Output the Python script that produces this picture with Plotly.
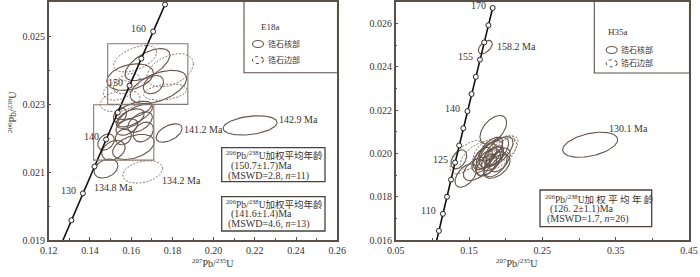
import numpy as np
import plotly.graph_objects as go

# ---------------- data ----------------
# E18a ellipses: centre, half-extent in x and y, correlation, rim flag (1 = rim / dashed)
E18_cx  = [0.1679, 0.1619, 0.1789, 0.1732, 0.1595, 0.1708, 0.1538, 0.1546, 0.1765, 0.1579,
           0.1611, 0.1619, 0.1595, 0.1643, 0.1478, 0.1514, 0.1611, 0.1659, 0.1562, 0.1579, 0.1546,
           0.1784, 0.2177, 0.1656, 0.1478]
E18_cy  = [0.02416, 0.02433, 0.02399, 0.02350, 0.02379, 0.02357, 0.02340, 0.02309, 0.02335, 0.02360,
           0.022812, 0.022666, 0.022569, 0.022469, 0.021883, 0.021639, 0.021736, 0.022176, 0.022029, 0.022323, 0.022666,
           0.022147, 0.022370, 0.021003, 0.021102]
E18_sx  = [0.0109, 0.0105, 0.0113, 0.0137, 0.0113, 0.0049, 0.0073, 0.0097, 0.0105, 0.0065,
           0.0089, 0.0085, 0.0068, 0.0060, 0.0040, 0.0057, 0.0101, 0.0049, 0.0039, 0.0053, 0.0032,
           0.0063, 0.0131, 0.0097, 0.0058]
E18_sy  = [0.00047, 0.00039, 0.00049, 0.00049, 0.00039, 0.00027, 0.00029, 0.00032, 0.00024, 0.00030,
           0.00027, 0.00034, 0.00029, 0.00030, 0.00024, 0.00029, 0.00037, 0.00029, 0.00023, 0.00024, 0.00022,
           0.00027, 0.000284, 0.00033, 0.00028]
E18_rho = [0.6, 0.5, 0.4, 0.5, 0.3, 0.3, 0.3, 0.3, 0.3, 0.4,
           0.6, 0.7, 0.5, 0.5, 0.3, 0.3, 0.4, 0.3, 0.2, 0.4, 0.3,
           0.5, 0.3, 0.3, 0.3]
E18_rim = [0, 1, 1, 0, 0, 0, 1, 1, 1, 1,
           0, 0, 0, 0, 0, 0, 0, 0, 0, 0, 0,
           0, 0, 1, 0]

H35_cx  = [0.3152, 0.1722, 0.1831, 0.1361, 0.1468, 0.1456, 0.1605,
           0.172, 0.178, 0.184, 0.190, 0.176, 0.182, 0.194, 0.200, 0.168, 0.186,
           0.180, 0.188, 0.170, 0.160, 0.196, 0.174, 0.185, 0.192]
H35_cy  = [0.020403, 0.024917, 0.021097, 0.019727, 0.019824, 0.018977, 0.019287,
           0.01985, 0.01995, 0.02005, 0.02010, 0.01960, 0.01975, 0.02000, 0.02020, 0.01970, 0.01950,
           0.02020, 0.01940, 0.02005, 0.01990, 0.02030, 0.01945, 0.01990, 0.01970]
H35_sx  = [0.0375, 0.0095, 0.0182, 0.0107, 0.0227, 0.0147, 0.0182,
           0.016, 0.018, 0.020, 0.020, 0.017, 0.015, 0.021, 0.017, 0.014, 0.016,
           0.016, 0.018, 0.015, 0.022, 0.016, 0.014, 0.012, 0.014]
H35_sy  = [0.00058, 0.00031, 0.00066, 0.00044, 0.00077, 0.00054, 0.00054,
           0.00060, 0.00065, 0.00070, 0.00068, 0.00062, 0.00055, 0.00072, 0.00060, 0.00058, 0.00058,
           0.00055, 0.00055, 0.00060, 0.00065, 0.00055, 0.00050, 0.00045, 0.00055]
H35_rho = [0.4, 0.5, 0.5, 0.4, 0.6, 0.5, 0.5,
           0.6, 0.6, 0.6, 0.6, 0.5, 0.5, 0.6, 0.6, 0.5, 0.5,
           0.6, 0.5, 0.6, 0.6, 0.6, 0.5, 0.5, 0.5]
H35_rim = [0, 0, 0, 0, 1, 0, 0,
           0, 0, 0, 0, 0, 0, 1, 1, 0, 0,
           0, 0, 1, 1, 1, 0, 0, 0]

# concordia marker ages (Ma) and labelled ages
E18_ages = [120, 125, 130, 135, 140, 145, 150, 155, 160, 165]
E18_age_labels = [130, 140, 150, 160]
H35_ages = [105, 110, 115, 120, 125, 130, 135, 140, 145, 150, 155, 160, 165, 170]
H35_age_labels = [110, 125, 140, 155, 170]

# ellipse age labels
E18_lab_text = ["142.9 Ma", "141.2 Ma", "134.2 Ma", "134.8 Ma"]
E18_lab_x = [0.2307, 0.1846, 0.1740, 0.1409]
E18_lab_y = [0.02255, 0.022246, 0.02076, 0.020545]
H35_lab_text = ["130.1 Ma", "158.2 Ma"]
H35_lab_x = [0.3377, 0.1854]
H35_lab_y = [0.021139, 0.024963]

# tick values
E18_xticks = [0.12, 0.14, 0.16, 0.18, 0.20, 0.22, 0.24, 0.26]
E18_yticks = [0.019, 0.021, 0.023, 0.025]
H35_xticks = [0.05, 0.15, 0.25, 0.35, 0.45]
H35_yticks = [0.016, 0.018, 0.020, 0.022, 0.024, 0.026]

L238 = 1.55125e-10
L235 = 9.8485e-10

SERIF = "Liberation Serif, Times New Roman, Noto Sans CJK SC, serif"
TXT = "#3a3330"
CORE = "#65554b"
RIM = "#867970"

W, H = 700, 277
def px(x):
    return x / W
def py(y):
    return 1 - y / H

fig = go.Figure()

def concordia(t):
    t = np.asarray(t, dtype=float) * 1e6
    return np.exp(L235 * t) - 1, np.exp(L238 * t) - 1

def add_ellipses(cx, cy, sx, sy, rho, rim, xa, ya):
    th = np.linspace(0, 2 * np.pi, 120)
    for i in range(len(cx)):
        r = rho[i]
        x = cx[i] + sx[i] * np.cos(th)
        y = cy[i] + sy[i] * (r * np.cos(th) + np.sqrt(1 - r * r) * np.sin(th))
        fig.add_trace(go.Scatter(
            x=x, y=y, mode="lines", xaxis=xa, yaxis=ya, hoverinfo="skip",
            line=dict(color=RIM if rim[i] else CORE, width=1.0 if rim[i] else 1.1,
                      dash="2px,1.5px" if rim[i] else "solid")))

def add_concordia(t0, t1, ages, labels, xa, ya, axref):
    tt = np.linspace(t0, t1, 300)
    x, y = concordia(tt)
    fig.add_trace(go.Scatter(x=x, y=y, mode="lines", xaxis=xa, yaxis=ya,
                             line=dict(color="#111", width=1.6), hoverinfo="skip"))
    mx, my = concordia(ages)
    fig.add_trace(go.Scatter(x=mx, y=my, mode="markers", xaxis=xa, yaxis=ya,
                             marker=dict(symbol="circle", size=5, color="white",
                                         line=dict(color="#222", width=1)),
                             hoverinfo="skip", cliponaxis=True))
    lx, ly = concordia(labels)
    for a, xx, yy in zip(labels, lx, ly):
        fig.add_annotation(x=xx, y=yy, xref=axref[0], yref=axref[1], text=str(a),
                           showarrow=False, xanchor="right", yanchor="middle",
                           xshift=-5, yshift=3, font=dict(family=SERIF, size=10, color=TXT))

# E18a (left)
add_ellipses(E18_cx, E18_cy, E18_sx, E18_sy, E18_rho, E18_rim, "x", "y")
add_concordia(118, 165, E18_ages, E18_age_labels, "x", "y", ("x", "y"))
for t, xx, yy in zip(E18_lab_text, E18_lab_x, E18_lab_y):
    fig.add_annotation(x=xx, y=yy, xref="x", yref="y", text=t, showarrow=False,
                       xanchor="left", yanchor="middle", font=dict(family=SERIF, size=10, color=TXT))

# H35a (right)
add_ellipses(H35_cx, H35_cy, H35_sx, H35_sy, H35_rho, H35_rim, "x2", "y2")
add_concordia(100, 170, H35_ages, H35_age_labels, "x2", "y2", ("x2", "y2"))
for t, xx, yy in zip(H35_lab_text, H35_lab_x, H35_lab_y):
    fig.add_annotation(x=xx, y=yy, xref="x2", yref="y2", text=t, showarrow=False,
                       xanchor="left", yanchor="middle", font=dict(family=SERIF, size=10, color=TXT))

shapes = []
# rectangles around age groups (left)
for (x0, x1, y0, y1) in [(0.1486, 0.1875, 0.02299, 0.02477), (0.1418, 0.1710, 0.02135, 0.02298)]:
    shapes.append(dict(type="rect", xref="x", yref="y", x0=x0, x1=x1, y0=y0, y1=y1,
                       line=dict(color="#857a73", width=1.1)))

# legend boxes
for (x0, x1, y0, y1) in [(244, 337.5, 0, 72.7), (594.3, 689.5, 0, 73)]:
    shapes.append(dict(type="rect", xref="paper", yref="paper", x0=px(x0), x1=px(x1),
                       y0=py(y1), y1=py(y0), line=dict(color="#5b5049", width=1.1)))
# legend icons
for (cxp, cyp, dash) in [(258, 44, "solid"), (258, 60, "dot"), (611.7, 50, "solid"), (611.7, 63.3, "dot")]:
    shapes.append(dict(type="circle", xref="paper", yref="paper",
                       x0=px(cxp - 5.5), x1=px(cxp + 5.5), y0=py(cyp + 3.5), y1=py(cyp - 3.5),
                       line=dict(color=CORE, width=1.1, dash=dash)))
# info boxes
for (x0, x1, y0, y1) in [(221.7, 325, 147.7, 181.7), (221.7, 325, 196.7, 231), (540, 651.7, 190, 226.7)]:
    shapes.append(dict(type="rect", xref="paper", yref="paper", x0=px(x0), x1=px(x1),
                       y0=py(y1), y1=py(y0), line=dict(color="#4a423d", width=1.3)))

def ptext(x, y, t, size=10, anchor="left"):
    fig.add_annotation(x=px(x), y=py(y), xref="paper", yref="paper", text=t, showarrow=False,
                       xanchor=anchor, yanchor="middle", font=dict(family=SERIF, size=size, color=TXT))

# legend texts
ptext(259, 27, "E18a", 9)
ptext(266, 44, "锆石核部", 8)
ptext(266, 60, "锆石边部", 8)
ptext(606, 32, "H35a", 9)
ptext(619, 50, "锆石核部", 8)
ptext(619, 63.3, "锆石边部", 8)

head = "<sup>206</sup>Pb/<sup>238</sup>U加权平均年龄"
ptext(224, 155.3, head, 9.5)
ptext(229, 165.7, "(150.7±1.7)Ma")
ptext(226, 175.7, "(MSWD=2.8, <i>n</i>=11)")
ptext(224, 204, head, 9.5)
ptext(229, 214.3, "(141.6±1.4)Ma")
ptext(226, 224, "(MSWD=4.6, <i>n</i>=13)")
ptext(543, 198.7, "<sup>206</sup>Pb/<sup>238</sup>U加 权 平 均 年 龄", 9.5)
ptext(548, 209, "(126. 2±1.1)Ma")
ptext(545, 219, "(MSWD=1.7, <i>n</i>=26)")

# axis titles
fig.add_annotation(x=px(190), y=py(271), xref="paper", yref="paper",
                   text="<sup>207</sup>Pb/<sup>235</sup>U", showarrow=False,
                   font=dict(family=SERIF, size=10, color=TXT))
fig.add_annotation(x=px(540), y=py(271), xref="paper", yref="paper",
                   text="<sup>207</sup>Pb/<sup>235</sup>U", showarrow=False,
                   font=dict(family=SERIF, size=10, color=TXT))
fig.add_annotation(x=px(4), y=py(112), xref="paper", yref="paper",
                   text="<sup>206</sup>Pb/<sup>238</sup>U", showarrow=False, textangle=-90,
                   font=dict(family=SERIF, size=10, color=TXT))

axis_common = dict(showline=True, linecolor="#5b5049", linewidth=1.5, mirror=True,
                   ticks="inside", ticklen=3, tickcolor="#5b5049", showgrid=False, zeroline=False,
                   automargin=False,
                   tickfont=dict(family=SERIF, size=10, color=TXT))

y0d, y1d = py(240), py(2)
fig.update_layout(
    width=W, height=H, margin=dict(l=0, r=0, t=0, b=0, autoexpand=False),
    paper_bgcolor="white", plot_bgcolor="white", showlegend=False,
    shapes=shapes,
    xaxis=dict(domain=[px(48.7), px(337.3)], range=[0.12, 0.26], tickvals=E18_xticks,
               tickformat=".2f", minor=dict(ticks="inside", ticklen=2, dtick=0.01, tick0=0.12,
                                            tickcolor="#5b5049"),
               anchor="y", **axis_common),
    yaxis=dict(domain=[y0d, y1d], range=[0.019, 0.026], tickvals=E18_yticks, tickformat=".3f",
               minor=dict(ticks="inside", ticklen=2, dtick=0.001, tick0=0.019, tickcolor="#5b5049"),
               anchor="x", **axis_common),
    xaxis2=dict(domain=[px(395.7), px(689)], range=[0.05, 0.45], tickvals=H35_xticks,
                tickformat=".2f", minor=dict(ticks="inside", ticklen=2, dtick=0.05, tick0=0.05,
                                             tickcolor="#5b5049"),
                anchor="y2", **axis_common),
    yaxis2=dict(domain=[y0d, y1d], range=[0.016, 0.027], tickvals=H35_yticks, tickformat=".3f",
                minor=dict(ticks="inside", ticklen=2, dtick=0.001, tick0=0.016, tickcolor="#5b5049"),
                anchor="x2", **axis_common),
)

fig.write_html("out.html", config={"displayModeBar": False},
               post_script="document.body.style.margin='0';document.body.style.overflow='hidden';")
